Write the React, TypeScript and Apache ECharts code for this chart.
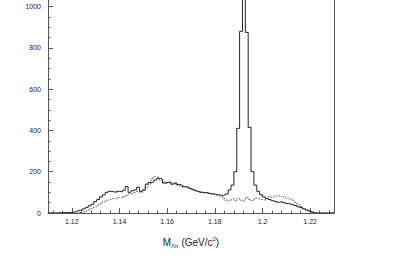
import React, { useEffect, useRef } from "react";
import * as echarts from "echarts";

// Histogram binning (GeV/c^2)
const binStart = 1.11;
const binWidth = 0.0012;

// Solid histogram counts (100 bins)
const solidCounts = [
  0, 0, 0, 1, 1, 2, 2, 3, 4, 6,
  10, 14, 20, 26, 35, 42, 55, 65, 78, 88,
  100, 105, 103, 100, 105, 102, 110, 128, 100, 108,
  112, 125, 105, 110, 140, 148, 150, 160, 168, 165,
  145, 148, 150, 140, 145, 138, 135, 128, 125, 120,
  115, 110, 105, 100, 98, 100, 95, 92, 90, 88,
  85, 88, 92, 112, 135, 200, 410, 880, 1500, 875,
  415, 200, 135, 105, 88, 78, 70, 65, 60, 56,
  52, 55, 50, 46, 44, 40, 36, 30, 26, 20,
  14, 10, 5, 0, 0, 0, 0, 0, 0, 0,
];

// Dashed histogram counts (100 bins)
const dashedCounts = [
  0, 0, 0, 0, 0, 0, 0, 0, 0, 0,
  2, 4, 6, 10, 15, 22, 30, 38, 45, 55,
  62, 65, 70, 68, 75, 72, 80, 85, 92, 95,
  100, 105, 98, 115, 125, 140, 168, 175, 172, 160,
  150, 145, 148, 140, 142, 135, 130, 125, 128, 120,
  112, 108, 104, 102, 98, 96, 94, 90, 88, 84,
  80, 70, 62, 58, 68, 60, 72, 62, 58, 75,
  65, 60, 72, 70, 65, 62, 70, 80, 75, 82,
  85, 80, 78, 72, 68, 62, 52, 40, 32, 22,
  15, 8, 3, 0, 0, 0, 0, 0, 0, 0,
];

const xMajorTicks = [1.12, 1.14, 1.16, 1.18, 1.2, 1.22];
const yMajorTicks = [0, 200, 400, 600, 800, 1000];
const xMin = 1.11;
const xMax = 1.23;
const yMax = 1032;

function toSteps(counts: number[]) {
  const pts: [number, number][] = counts.map((v, k) => [
    +(binStart + k * binWidth).toFixed(5),
    v,
  ]);
  pts.push([+(binStart + counts.length * binWidth).toFixed(5), counts[counts.length - 1]]);
  return pts;
}

function minorTicks(from: number, to: number, step: number, majors: number[], digits: number) {
  const out: number[] = [];
  const n = Math.round((to - from) / step);
  for (let i = 0; i <= n; i++) {
    const v = +(from + i * step).toFixed(digits);
    if (!majors.some((m) => Math.abs(m - v) < step / 10)) out.push(v);
  }
  return out;
}

const xMinorTicks = minorTicks(1.112, 1.228, 0.004, xMajorTicks, 4);
const yMinorTicks = minorTicks(50, 1000, 50, yMajorTicks, 0);

const AXIS_COLOR = "#555";
const TEXT_COLOR = "#222";
const FONT = "Liberation Sans, Arial, sans-serif";

export default function App() {
  const ref = useRef<HTMLDivElement>(null);

  useEffect(() => {
    if (!ref.current) return;
    const chart = echarts.init(ref.current, undefined, { renderer: "svg" });
    chart.setOption({
      animation: false,
      backgroundColor: "#fff",
      textStyle: { color: TEXT_COLOR, fontFamily: FONT },
      grid: { left: 48, right: 59, top: 0, bottom: 45, containLabel: false },
      xAxis: [
        {
          type: "value",
          min: xMin,
          max: xMax,
          position: "bottom",
          axisLine: { show: true, lineStyle: { color: AXIS_COLOR, width: 1 } },
          axisTick: {
            show: true,
            inside: true,
            length: 5,
            customValues: xMajorTicks,
            lineStyle: { color: AXIS_COLOR },
          },
          axisLabel: {
            show: true,
            customValues: xMajorTicks,
            formatter: (v: number) => String(v),
            fontSize: 7,
            color: TEXT_COLOR,
            fontFamily: FONT,
            margin: 5,
          },
          splitLine: { show: false },
          name: "{a|M}{b|Λπ}{a| (GeV/c}{c|2}{a|)}",
          nameLocation: "middle",
          nameGap: 23,
          nameTextStyle: {
            color: TEXT_COLOR,
            fontFamily: FONT,
            rich: {
              a: { fontSize: 10, fontFamily: FONT, color: TEXT_COLOR, lineHeight: 13, verticalAlign: "middle" },
              b: { fontSize: 5.5, fontFamily: FONT, color: TEXT_COLOR, lineHeight: 13, verticalAlign: "bottom" },
              c: { fontSize: 6, fontFamily: FONT, color: TEXT_COLOR, lineHeight: 13, verticalAlign: "top" },
            },
          },
        },
        {
          type: "value",
          min: xMin,
          max: xMax,
          position: "bottom",
          axisLine: { show: false },
          axisTick: {
            show: true,
            inside: true,
            length: 2.5,
            customValues: xMinorTicks,
            lineStyle: { color: AXIS_COLOR },
          },
          axisLabel: { show: false, customValues: xMinorTicks },
          splitLine: { show: false },
        },
      ],
      yAxis: [
        {
          type: "value",
          min: 0,
          max: yMax,
          position: "left",
          axisLine: { show: true, lineStyle: { color: AXIS_COLOR, width: 1 } },
          axisTick: {
            show: true,
            inside: true,
            length: 5,
            customValues: yMajorTicks,
            lineStyle: { color: AXIS_COLOR },
          },
          axisLabel: {
            show: true,
            customValues: yMajorTicks,
            formatter: (v: number) => String(v),
            fontSize: 7,
            color: TEXT_COLOR,
            fontFamily: FONT,
            margin: 7,
          },
          splitLine: { show: false },
        },
        {
          type: "value",
          min: 0,
          max: yMax,
          position: "left",
          axisLine: { show: false },
          axisTick: {
            show: true,
            inside: true,
            length: 2.5,
            customValues: yMinorTicks,
            lineStyle: { color: AXIS_COLOR },
          },
          axisLabel: { show: false, customValues: yMinorTicks },
          splitLine: { show: false },
        },
        {
          type: "value",
          min: 0,
          max: yMax,
          position: "right",
          axisLine: { show: true, lineStyle: { color: AXIS_COLOR, width: 1 } },
          axisTick: { show: false },
          axisLabel: { show: false },
          splitLine: { show: false },
        },
      ],
      series: [
        {
          type: "line",
          name: "dashed",
          xAxisIndex: 0,
          yAxisIndex: 0,
          step: "end",
          symbol: "none",
          clip: true,
          data: toSteps(dashedCounts),
          lineStyle: { color: "#666", width: 1, type: [2, 1.5] },
        },
        {
          type: "line",
          name: "solid",
          xAxisIndex: 0,
          yAxisIndex: 0,
          step: "end",
          symbol: "none",
          clip: true,
          data: toSteps(solidCounts),
          lineStyle: { color: "#222", width: 1 },
        },
      ],
    });
    return () => chart.dispose();
  }, []);

  return (
    <div
      ref={ref}
      style={{ width: 393, height: 258, position: "absolute", left: 0, top: 0 }}
    />
  );
}
